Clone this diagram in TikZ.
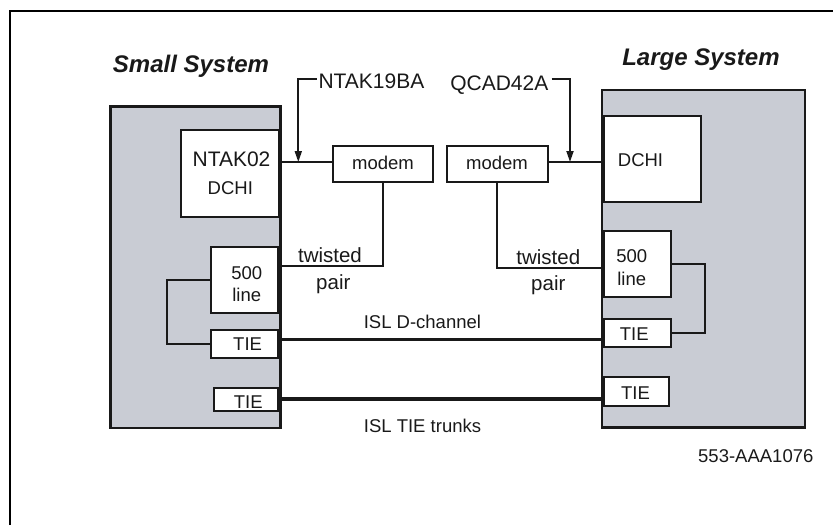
\documentclass[tikz,border=0pt]{standalone}
\usepackage{fontspec}
\setmainfont{Liberation Sans}
\usetikzlibrary{arrows.meta}
\definecolor{sysgray}{RGB}{201,204,212}
\definecolor{ink}{RGB}{25,25,25}
\begin{document}
\begin{tikzpicture}[x=1pt,y=-1pt,
  sysbox/.style={draw=ink,line width=2.5pt,fill=sysgray,inner sep=0pt},
  cardbox/.style={draw=ink,line width=2pt,fill=white,inner sep=0pt},
  wire/.style={draw=ink,line width=2.1pt},
  trunk/.style={draw=ink,line width=4.5pt},
  pointer/.style={draw=ink,line width=1.8pt,-{Triangle[length=11pt,width=7pt]}},
  frameline/.style={draw=black,line width=2.3pt},
  lbl/.style={inner sep=0pt,text=ink,font=\fontsize{18.5}{20}\selectfont,anchor=base},
  tw/.style={lbl,font=\fontsize{20.5}{22}\selectfont},
  big/.style={lbl,font=\fontsize{21}{24}\selectfont},
  title/.style={lbl,font=\fontsize{24}{28}\selectfont\bfseries\itshape},
]
\useasboundingbox (0,0) rectangle (833,525);
\draw[frameline] (10,525) -- (10,11) -- (833,11);

% system boxes
\node[sysbox,minimum width=170pt,minimum height=321.5pt] (small) at (195.5,267.25) {};
\node[sysbox,minimum width=203pt,minimum height=337.5pt] (large) at (703.5,258.75) {};

% cards
\node[cardbox,minimum width=97.5pt,minimum height=87.5pt] (dchiL) at (229.75,173.25) {};
\node[cardbox,minimum width=100pt,minimum height=35.7pt] (modemL) at (383,163.85) {};
\node[cardbox,minimum width=100.5pt,minimum height=35.7pt] (modemR) at (497.25,163.85) {};
\node[cardbox,minimum width=96.7pt,minimum height=86.3pt] (dchiR) at (652.35,159.15) {};
\node[cardbox,minimum width=67.6pt,minimum height=65.4pt] (lineL) at (244.5,280) {};
\node[cardbox,minimum width=66.7pt,minimum height=66pt] (lineR) at (637.35,263.7) {};
\node[cardbox,minimum width=67pt,minimum height=27.7pt] (tieL1) at (244.5,343.65) {};
\node[cardbox,minimum width=64pt,minimum height=22.7pt] (tieL2) at (246,399.75) {};
\node[cardbox,minimum width=66.7pt,minimum height=27.7pt] (tieR1) at (637.35,332.85) {};
\node[cardbox,minimum width=65.3pt,minimum height=28.4pt] (tieR2) at (636.65,391.5) {};

% texts
\node[title] (tSmall) at (191,72.3) {Small System};
\node[title] (tLarge) at (701,65.7) {Large System};
\node[big,anchor=base west] (pnA) at (318.3,88.5) {NTAK19BA};
\node[big,anchor=base east] (pnB) at (548.5,90) {QCAD42A};
\node[big] (tNT) at (231.5,166) {NTAK02};
\node[lbl] (tDL) at (230.3,194) {DCHI};
\node[lbl] (tML) at (383,169) {modem};
\node[lbl] (tMR) at (497,169) {modem};
\node[lbl] (tDR) at (640.5,166) {DCHI};
\node[tw] (tTwL) at (330,262.5) {twisted};
\node[tw] (tPaL) at (333.3,289) {pair};
\node[tw] (tTwR) at (548.3,264.5) {twisted};
\node[tw] (tPaR) at (548.3,290) {pair};
\node[lbl] (t5L) at (246.7,279) {500};
\node[lbl] (tlL) at (246.7,301) {line};
\node[lbl] (t5R) at (631.7,262.3) {500};
\node[lbl] (tlR) at (631.7,285) {line};
\node[lbl] (tT1L) at (247.6,350) {TIE};
\node[lbl] (tT2L) at (248.3,408.3) {TIE};
\node[lbl] (tT1R) at (634.2,340.7) {TIE};
\node[lbl] (tT2R) at (635.5,399) {TIE};
\node[lbl] (tDch) at (422.4,328.5) {ISL D-channel};
\node[lbl] (tTrk) at (422.5,432.7) {ISL TIE trunks};
\node[lbl] (tId) at (755.8,462.3) {553-AAA1076};

% junctions
\coordinate (jL) at (298.3,162);
\coordinate (jR) at (570,162);
\coordinate (hA) at (0,79.3);

% connectors
\draw[wire] (dchiL.east |- jL) -- (modemL.west |- jL);
\draw[wire] (modemR.east |- jR) -- (dchiR.west |- jR);
\draw[pointer,shorten <=1.5pt] (pnA.west |- hA) -| (jL);
\draw[pointer,shorten <=3pt] (pnB.east |- hA) -| (jR);
\draw[wire] (modemL.south) |- ([yshift=14pt]lineL.east);
\draw[wire] (modemR.south) |- ([yshift=-4.6pt]lineR.west);
\draw[wire] (lineL.west) -- ++(-42.4,0) |- (tieL1.west);
\draw[wire] (lineR.east) -- ++(33.6,0) |- (tieR1.east);
\draw[wire] ([yshift=4.15pt]tieL1.east) -- ([yshift=-6.65pt]tieR1.west);
\draw[trunk] ([yshift=0.75pt]tieL2.east) -- ([yshift=-7.5pt]tieR2.west);
\end{tikzpicture}
\end{document}
